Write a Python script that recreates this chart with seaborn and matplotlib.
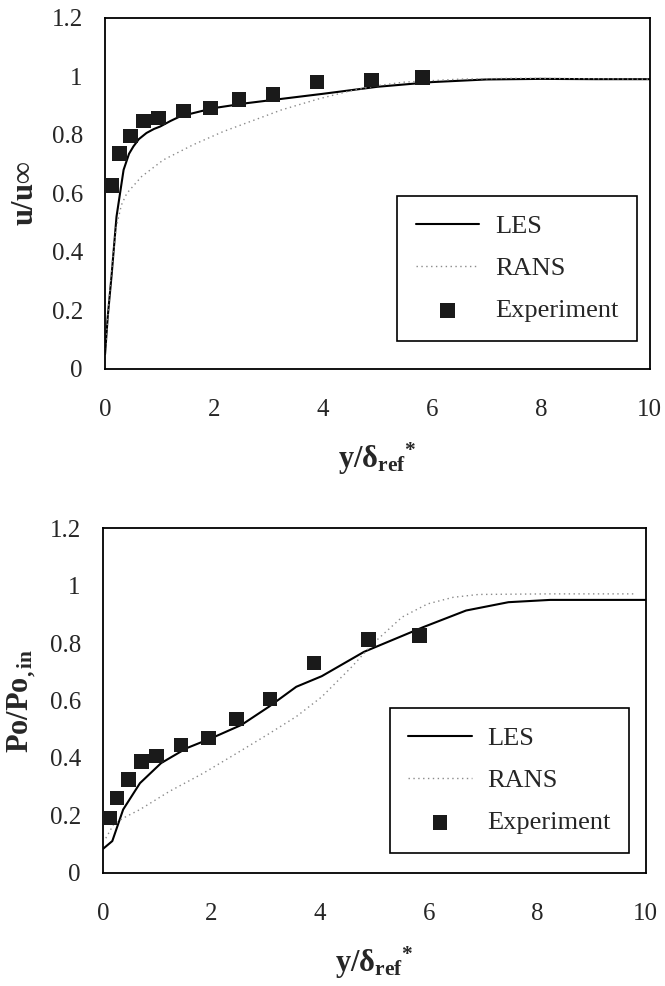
import numpy as np
import pandas as pd
import matplotlib
matplotlib.use("Agg")
import matplotlib.pyplot as plt
import seaborn as sns

# top panel: velocity profile
exp_y = [0.12, 0.26, 0.47, 0.71, 0.98, 1.44, 1.94, 2.46, 3.08, 3.89, 4.89, 5.83]
exp_u = [0.627, 0.735, 0.795, 0.847, 0.858, 0.881, 0.892, 0.921, 0.938, 0.981, 0.987, 0.995]

les_y = [0.0, 0.05, 0.12, 0.21, 0.34, 0.44, 0.52, 0.62, 0.76, 0.9, 1.01, 1.2, 1.38, 1.99, 2.6, 3.21, 4.0, 5.0, 6.0, 7.0, 8.0, 9.0, 10.0]
les_u = [0.05, 0.18, 0.32, 0.52, 0.68, 0.735, 0.76, 0.785, 0.806, 0.82, 0.828, 0.847, 0.863, 0.891, 0.908, 0.922, 0.94, 0.964, 0.98, 0.989, 0.991, 0.99, 0.99]

rans_y = [0.0, 0.1, 0.2, 0.3, 0.4, 0.67, 1.07, 1.62, 2.17, 2.78, 3.24, 3.91, 4.5, 5.0, 5.5, 6.5, 7.5, 8.5, 10.0]
rans_u = [0.05, 0.3, 0.48, 0.56, 0.6, 0.657, 0.714, 0.766, 0.811, 0.853, 0.885, 0.922, 0.95, 0.968, 0.98, 0.99, 0.993, 0.992, 0.99]

# bottom panel: total pressure profile
exp_p = [0.191, 0.260, 0.324, 0.388, 0.407, 0.445, 0.469, 0.536, 0.605, 0.731, 0.813, 0.827]

les2_y = [0.0, 0.17, 0.37, 0.68, 1.07, 1.54, 2.0, 2.55, 3.06, 3.56, 4.03, 4.81, 5.9, 6.69, 7.47, 8.24, 9.0, 10.0]
les2_p = [0.083, 0.11, 0.22, 0.312, 0.382, 0.434, 0.469, 0.515, 0.579, 0.648, 0.685, 0.77, 0.856, 0.914, 0.943, 0.951, 0.951, 0.951]

rans2_y = [0.05, 0.2, 0.37, 0.68, 1.22, 1.85, 2.47, 3.02, 3.56, 4.03, 4.58, 4.97, 5.51, 5.98, 6.45, 6.92, 8.24, 9.8]
rans2_p = [0.12, 0.17, 0.19, 0.22, 0.283, 0.347, 0.417, 0.48, 0.544, 0.613, 0.717, 0.798, 0.891, 0.937, 0.96, 0.97, 0.972, 0.972]

sns.set_style("white")
plt.rcParams["font.family"] = ["Liberation Serif", "DejaVu Serif"]
plt.rcParams["mathtext.fontset"] = "custom"
plt.rcParams["mathtext.rm"] = "Liberation Serif"
plt.rcParams["mathtext.bf"] = "Liberation Serif:bold"
plt.rcParams["mathtext.it"] = "Liberation Serif:italic"

fig = plt.figure(figsize=(6.65, 9.86), dpi=100)
ax1 = fig.add_axes([0.158, 0.626, 0.819, 0.356])
ax2 = fig.add_axes([0.155, 0.115, 0.816, 0.349])


def panel(ax, ly, lv, ry, rv, ev, ylabel, leg_anchor):
    sns.lineplot(x=ly, y=lv, ax=ax, color="black", lw=1.5, label="LES", sort=False)
    sns.lineplot(x=ry, y=rv, ax=ax, color="#8a8a8a", lw=1.0, ls=(0, (1, 2.5)), label="RANS", sort=False)
    sns.scatterplot(x=exp_y, y=ev, ax=ax, marker="s", s=110, color="#1a1a1a", edgecolor="none", label="Experiment", zorder=5)
    ax.set_xlim(0, 10)
    ax.set_ylim(0, 1.2)
    ax.set_xticks([0, 2, 4, 6, 8, 10])
    ax.set_yticks([0, 0.2, 0.4, 0.6, 0.8, 1.0, 1.2])
    ax.set_xticklabels(["0", "2", "4", "6", "8", "10"])
    ax.set_yticklabels(["0", "0.2", "0.4", "0.6", "0.8", "1", "1.2"])
    ax.tick_params(axis="x", direction="in", length=6, width=1.2, pad=22, labelsize=18)
    ax.tick_params(axis="y", direction="in", length=6, width=1.2, pad=16, labelsize=18)
    for sp in ax.spines.values():
        sp.set_linewidth(1.3)
        sp.set_color("black")
    ax.set_xlabel(r"$\mathbf{y/δ_{ref}}$" + r"$\mathbf{^{*}}$", fontsize=22, labelpad=14)
    ax.set_ylabel(ylabel, fontsize=22, labelpad=8)
    leg = ax.legend(loc="lower right", bbox_to_anchor=leg_anchor, fontsize=19, frameon=True,
                    fancybox=False, edgecolor="black", framealpha=1, labelspacing=0.7,
                    handlelength=2.4, borderpad=0.7, borderaxespad=0, handletextpad=0.6,
                    markerscale=1.0)
    leg.get_frame().set_linewidth(1.2)


panel(ax1, les_y, les_u, rans_y, rans_u, exp_u, r"$\mathbf{u/u∞}$", (0.976, 0.08))
panel(ax2, les2_y, les2_p, rans2_y, rans2_p, exp_p, r"$\mathbf{Po/Po_{,in}}$", (0.97, 0.058))

fig.savefig("out.png", dpi=100)
